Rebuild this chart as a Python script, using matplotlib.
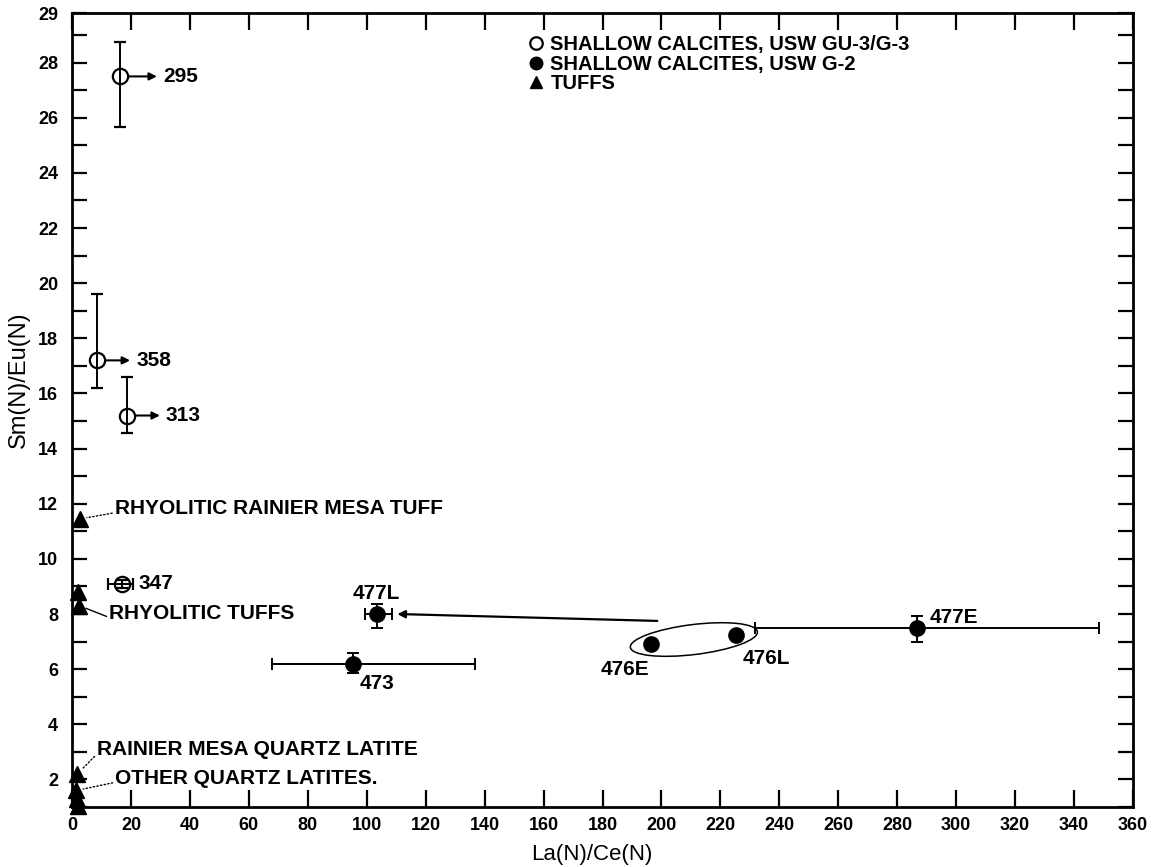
import numpy as np
import matplotlib.pyplot as plt
from matplotlib.lines import Line2D
from matplotlib.patches import Ellipse
from matplotlib.transforms import ScaledTranslation

plt.rcParams['font.family'] = ['Liberation Sans', 'DejaVu Sans']
plt.rcParams['font.weight'] = 'bold'

# shallow calcites, USW GU-3/G-3 (open circles)
gu3_names = ['295', '358', '313', '347']
gu3_x = [16.3, 8.5, 18.6, 17.0]
gu3_y = [27.5, 17.2, 15.2, 9.1]
gu3_xerr_lo = [0, 0, 0, 4.8]
gu3_xerr_hi = [0, 0, 0, 3.7]
gu3_yerr_lo = [1.85, 1.0, 0.65, 0.15]
gu3_yerr_hi = [1.25, 2.4, 1.4, 0.15]
gu3_arrow_to = [28.8, 19.7, 29.8, None]   # La/Ce is a lower limit

# shallow calcites, USW G-2 (filled circles)
g2_names = ['477L', '473', '476E', '476L', '477E']
g2_x = [103.4, 95.3, 196.6, 225.4, 286.8]
g2_y = [8.0, 6.2, 6.9, 7.25, 7.5]
g2_xerr_lo = [4.1, 27.5, 0, 0, 55.0]
g2_xerr_hi = [5.1, 41.3, 0, 0, 61.7]
g2_yerr_lo = [0.5, 0.35, 0, 0, 0.5]
g2_yerr_hi = [0.36, 0.4, 0, 0, 0.43]
arrow_477L_from = (198.6, 7.75)

# tuffs (triangles)
tuff_x = [2.7, 2.2, 2.5, 1.8, 1.5, 1.7, 1.9]
tuff_y = [11.45, 8.8, 8.3, 2.2, 1.6, 1.3, 1.05]
tuff_notes = ['RHYOLITIC RAINIER MESA TUFF', 'RHYOLITIC TUFFS',
              'RAINIER MESA QUARTZ LATITE', 'OTHER QUARTZ LATITES.']
tuff_note_idx = [0, 2, 3, 4]

xticks = np.arange(0, 361, 20)
yticks = [2, 4, 6, 8, 10, 12, 14, 16, 18, 20, 22, 24, 26, 28, 29.8]
ytick_labels = ['2', '4', '6', '8', '10', '12', '14', '16', '18', '20',
                '22', '24', '26', '28', '29']

fig = plt.figure(figsize=(11.69, 8.67), dpi=100)
ax = fig.add_axes([0.0616, 0.0692, 0.9076, 0.9158])

# open circles
for i in range(len(gu3_x)):
    xe = None
    if gu3_xerr_hi[i] > 0:
        xe = [[gu3_xerr_lo[i]], [gu3_xerr_hi[i]]]
    ax.errorbar(gu3_x[i], gu3_y[i], xerr=xe,
                yerr=[[gu3_yerr_lo[i]], [gu3_yerr_hi[i]]],
                fmt='o', ms=11, mfc='none', mec='k', mew=1.6, color='k',
                elinewidth=1.4, capsize=4, capthick=1.4)
    if gu3_arrow_to[i] is not None:
        ax.annotate('', xy=(gu3_arrow_to[i], gu3_y[i]), xytext=(gu3_x[i], gu3_y[i]),
                    arrowprops=dict(arrowstyle='-|>', color='k', lw=1.5,
                                    mutation_scale=11, shrinkA=6, shrinkB=0))
        ax.annotate(gu3_names[i], xy=(gu3_arrow_to[i], gu3_y[i]),
                    xytext=(6, 0), textcoords='offset pixels',
                    ha='left', va='center', fontsize=15)
    else:
        ax.annotate(gu3_names[i], xy=(gu3_x[i], gu3_y[i]),
                    xytext=(16, 0), textcoords='offset pixels',
                    ha='left', va='center', fontsize=15)

# filled circles
for i in range(len(g2_x)):
    xe = None
    ye = None
    if g2_xerr_hi[i] > 0:
        xe = [[g2_xerr_lo[i]], [g2_xerr_hi[i]]]
    if g2_yerr_hi[i] > 0:
        ye = [[g2_yerr_lo[i]], [g2_yerr_hi[i]]]
    ax.errorbar(g2_x[i], g2_y[i], xerr=xe, yerr=ye, fmt='o', ms=11,
                color='k', elinewidth=1.4, capsize=4, capthick=1.4)

ax.annotate('', xy=(g2_x[0] + 7, g2_y[0]), xytext=arrow_477L_from,
            arrowprops=dict(arrowstyle='-|>', color='k', lw=1.6,
                            mutation_scale=11, shrinkA=0, shrinkB=0))

g2_label_off = [(0, 21), (24, -20), (-26, -25), (30, -24), (12, 10)]
g2_label_ha = ['center', 'center', 'center', 'center', 'left']
for i in range(len(g2_x)):
    ax.annotate(g2_names[i], xy=(g2_x[i], g2_y[i]), xytext=g2_label_off[i],
                textcoords='offset pixels', ha=g2_label_ha[i], va='center',
                fontsize=15)

# group 476E / 476L
cx = (g2_x[2] + g2_x[3]) / 2
cy = (g2_y[2] + g2_y[3]) / 2
ell = Ellipse((0, 0), 1.28, 0.30, angle=7, fill=False, ec='k', lw=1.1,
              transform=fig.dpi_scale_trans + ScaledTranslation(cx, cy, ax.transData))
ax.add_patch(ell)

# tuffs
ax.plot(tuff_x, tuff_y, '^', ms=11, color='k', clip_on=False)
note_off = [(35, 10), (30, -8), (20, 24), (39, 12)]
note_ls = [':', '-', ':', ':']
for k, txt in enumerate(tuff_notes):
    j = tuff_note_idx[k]
    ax.annotate(txt, xy=(tuff_x[j], tuff_y[j]), xytext=note_off[k],
                textcoords='offset pixels', ha='left', va='center', fontsize=15,
                arrowprops=dict(arrowstyle='-', color='k', lw=1.0, ls=note_ls[k],
                                shrinkA=0, shrinkB=5, relpos=(0, 0.3)))

# legend
handles = [Line2D([], [], ls='none', marker='o', ms=9, mfc='none', mec='k', mew=1.6),
           Line2D([], [], ls='none', marker='o', ms=9, color='k'),
           Line2D([], [], ls='none', marker='^', ms=9, color='k')]
labels = ['SHALLOW CALCITES, USW GU-3/G-3', 'SHALLOW CALCITES, USW G-2', 'TUFFS']
ax.legend(handles, labels, loc='upper left', bbox_to_anchor=(0.43, 0.972),
          frameon=False, fontsize=14.5, handlelength=0.8, handletextpad=0.3,
          labelspacing=0.02, borderpad=0, borderaxespad=0)

ax.set_xlim(0, 360)
ax.set_ylim(1, 29.8)
ax.set_xticks(xticks)
ax.set_yticks(yticks)
ax.set_yticklabels(ytick_labels)
ax.set_yticks(np.arange(1, 30, 1), minor=True)
ax.tick_params(axis='both', which='both', direction='in', width=1.6,
               labelsize=13, top=True, right=True, pad=7)
ax.tick_params(axis='y', which='major', pad=10)
ax.tick_params(axis='y', which='both', length=11)
ax.tick_params(axis='x', which='major', length=12)
for s in ax.spines.values():
    s.set_linewidth(2)

ax.set_xlabel('La(N)/Ce(N)', fontsize=16, fontweight='normal')
ax.set_ylabel('Sm(N)/Eu(N)', fontsize=17, fontweight='normal')
ax.xaxis.set_label_coords(0.49, -0.046)
ax.yaxis.set_label_coords(-0.04, 0.538)

plt.savefig('out.png', dpi=100)
